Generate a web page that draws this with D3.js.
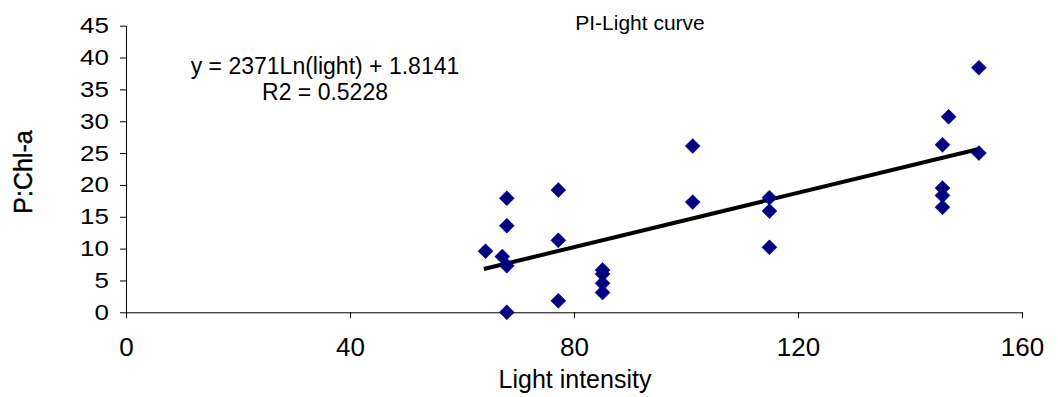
<!DOCTYPE html>
<html>
<head>
<meta charset="utf-8">
<script src="https://cdn.jsdelivr.net/npm/d3@7"></script>
<style>
  body { margin: 0; background: #fff; }
  text { font-family: 'Liberation Sans', Arial, sans-serif; fill: #000; }
</style>
</head>
<body>
<div id="chart"></div>
<script>
// measured points (light intensity vs P:Chl-a)
const lightValues = [64.2, 68.0, 68.0, 67.2, 68.0, 68.0, 77.2, 77.2, 77.2, 85.1, 85.1, 85.1, 85.1,
  101.2, 101.2, 114.9, 114.9, 114.9, 145.8, 146.9, 145.8, 145.8, 145.8, 152.3, 152.3];
const pchlValues = [9.6, 17.9, 13.6, 8.75, 7.3, 0, 19.2, 11.3, 1.8, 6.65, 6.0, 4.55, 3.1,
  17.3, 26.1, 18.0, 15.9, 10.2, 26.3, 30.7, 19.5, 18.35, 16.5, 38.4, 25.0];

// trendline end points
const trendX = [63.9, 152.1];
const trendY = [6.8, 25.6];

const xTicks = [0, 40, 80, 120, 160];
const yTicks = [0, 5, 10, 15, 20, 25, 30, 35, 40, 45];

const chartTitle = 'PI-Light curve';
const xTitle = 'Light intensity';
const yTitle = 'P:Chl-a';
const equationLines = ['y = 2371Ln(light) + 1.8141', 'R2 = 0.5228'];

const width = 1058, height = 397;
const plotLeft = 126, plotRight = 1022, plotTop = 25.7, plotBottom = 312.3;

const svg = d3.select('#chart').append('svg')
  .attr('width', width)
  .attr('height', height);

svg.append('rect').attr('width', width).attr('height', height).attr('fill', '#fff');

const xScale = d3.scaleLinear().domain([0, 160]).range([plotLeft, plotRight]);
const yScale = d3.scaleLinear().domain([0, 45]).range([plotBottom, plotTop]);

const xAxis = svg.append('g')
  .attr('transform', `translate(0, ${plotBottom})`)
  .call(d3.axisBottom(xScale).tickValues(xTicks).tickSize(6).tickPadding(19).tickSizeOuter(0));

const yAxis = svg.append('g')
  .attr('transform', `translate(${plotLeft}, 0)`)
  .call(d3.axisLeft(yScale).tickValues(yTicks).tickSize(6).tickPadding(11).tickSizeOuter(0));

[xAxis, yAxis].forEach(g => {
  g.select('.domain').attr('stroke', '#000').attr('stroke-width', 1);
  g.selectAll('.tick line').attr('stroke', '#000');
  g.selectAll('.tick text')
    .attr('font-family', "'Liberation Sans', Arial, sans-serif")
    .attr('fill', '#000');
});
xAxis.selectAll('.tick text').attr('font-size', 26);
// y labels in the original are a bit wider than plain Arial
yAxis.selectAll('.tick text')
  .attr('font-size', 22)
  .each(function() {
    const w = this.getComputedTextLength();
    d3.select(this).attr('textLength', w * 1.18).attr('lengthAdjust', 'spacingAndGlyphs');
  });

// trendline
svg.append('line')
  .attr('x1', xScale(trendX[0]))
  .attr('y1', yScale(trendY[0]))
  .attr('x2', xScale(trendX[1]))
  .attr('y2', yScale(trendY[1]))
  .attr('stroke', '#000')
  .attr('stroke-width', 4);

// diamonds
const diamond = d3.symbol().type(d3.symbolSquare).size(112);
svg.selectAll('path.pt')
  .data(lightValues.map((x, i) => [x, pchlValues[i]]))
  .enter()
  .append('path')
  .attr('class', 'pt')
  .attr('d', diamond)
  .attr('transform', d => `translate(${xScale(d[0])}, ${yScale(d[1])}) rotate(45)`)
  .attr('fill', '#000080')
  .attr('stroke', '#000080')
  .attr('stroke-width', 0.5);

svg.append('text')
  .attr('x', 640)
  .attr('y', 30)
  .attr('text-anchor', 'middle')
  .attr('font-size', 21)
  .text(chartTitle);

equationLines.forEach((line, i) => {
  svg.append('text')
    .attr('x', 325)
    .attr('y', 74 + i * 26)
    .attr('text-anchor', 'middle')
    .attr('font-size', 23)
    .text(line);
});

svg.append('text')
  .attr('x', 575)
  .attr('y', 388)
  .attr('text-anchor', 'middle')
  .attr('font-size', 25)
  .text(xTitle);

svg.append('text')
  .attr('transform', 'translate(32, 172) rotate(-90)')
  .attr('text-anchor', 'middle')
  .attr('font-size', 25)
  .attr('stroke', '#000')
  .attr('stroke-width', 0.4)
  .text(yTitle);
</script>
</body>
</html>
